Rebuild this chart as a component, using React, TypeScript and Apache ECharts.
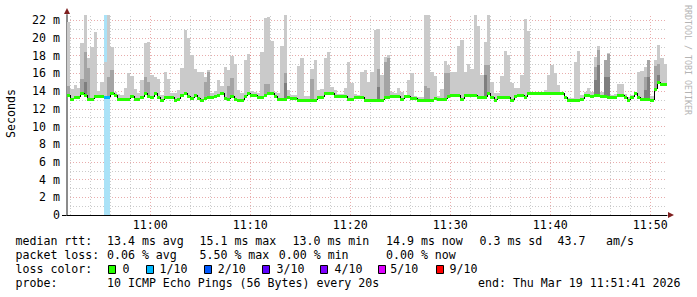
import { useEffect, useRef } from "react";
import * as echarts from "echarts";

// ---------- data ----------
const START_TIME = "10:51:41";
const STEP_S = 20;
const Y_MAX = 22.6;

const medianMs = [
  13.54, 13.16, 13.35, 13.35, 13.73, 13.54, 13.09, 13.09, 13.46, 13.46,
  13.46, 13.35, 13.35, 13.8, 13.54, 13.09, 13.09, 13.09, 13.16, 13.46,
  13.09, 13.09, 13.35, 13.8, 13.46, 13.35, 13.8, 13.35, 13.05, 13.35,
  13.35, 13.35, 13.05, 13.09, 13.54, 13.73, 13.43, 13.24, 13.61, 13.27,
  13.05, 13.27, 13.35, 13.35, 13.43, 13.61, 13.73, 13.24, 13.09, 13.4,
  13.09, 13.05, 13.05, 13.43, 13.73, 13.61, 13.61, 13.35, 13.35, 13.61,
  13.73, 13.73, 13.43, 13.16, 13.16, 13.16, 13.35, 13.27, 13.27, 13.05,
  13.05, 13.05, 13.05, 13.05, 13.05, 13.35, 13.35, 13.8, 13.8, 13.8,
  13.43, 13.43, 13.43, 13.43, 13.09, 13.09, 13.35, 13.35, 13.35, 13.05,
  13.05, 13.05, 13.05, 13.05, 13.05, 13.35, 13.35, 13.46, 13.46, 13.46,
  13.16, 13.43, 13.43, 13.27, 13.27, 12.97, 12.97, 12.97, 12.97, 12.97,
  13.2, 13.09, 13.09, 13.09, 13.43, 13.61, 13.61, 13.61, 13.15, 13.61,
  13.61, 13.61, 13.61, 13.35, 13.35, 13.35, 13.8, 13.35, 13.05, 13.35,
  13.35, 13.35, 13.35, 12.97, 13.43, 13.61, 13.61, 13.35, 13.73, 13.73,
  13.73, 13.73, 13.73, 13.73, 13.73, 13.73, 13.73, 13.73, 13.73, 13.35,
  12.97, 12.97, 12.97, 12.97, 13.16, 13.61, 13.61, 13.43, 13.61, 13.61,
  13.46, 13.46, 13.35, 13.35, 13.35, 13.61, 13.61, 13.35, 13.05, 13.35,
  13.73, 13.35, 13.16, 13.16, 13.16, 12.97, 14.2, 15.04, 14.85, 14.85,
];

const smokeMaxMs = [
  21.8, 14.2, 14.7, 14.4, 19.4, 22.6, 17.7, 19.0, 20.7, 14.0,
  15.0, 17.3, 22.6, 19.0, 13.9, 13.7, 13.6, 14.4, 16.0, 15.7,
  14.2, 13.8, 15.2, 19.4, 19.6, 15.8, 15.6, 15.4, 13.6, 16.2,
  15.4, 13.8, 13.8, 14.1, 16.6, 20.9, 20.0, 18.1, 16.5, 16.2,
  16.2, 15.6, 16.4, 13.8, 14.0, 15.2, 14.6, 16.7, 16.4, 18.0,
  17.1, 14.1, 13.8, 17.5, 18.2, 14.0, 13.9, 13.8, 18.4, 22.3,
  22.4, 19.7, 13.9, 13.8, 19.1, 22.6, 14.1, 13.6, 13.6, 16.8,
  17.7, 13.4, 13.4, 16.5, 17.5, 14.1, 14.2, 17.7, 18.4, 14.5,
  14.1, 13.7, 13.7, 14.3, 17.3, 14.9, 13.7, 13.6, 16.2, 16.4,
  15.0, 16.2, 20.9, 21.0, 15.8, 17.9, 18.1, 13.9, 13.8, 14.4,
  13.9, 13.6, 15.3, 16.0, 13.5, 13.3, 13.3, 22.6, 22.6, 16.2,
  15.7, 13.5, 14.2, 17.4, 16.9, 16.2, 16.2, 19.1, 19.8, 16.2,
  17.1, 16.5, 22.6, 21.4, 15.8, 19.6, 22.6, 15.0, 13.8, 13.8,
  15.7, 18.5, 18.1, 14.9, 14.3, 14.4, 15.8, 22.2, 20.8, 13.9,
  13.9, 13.9, 13.9, 14.1, 15.8, 17.0, 16.0, 14.7, 13.9, 13.5,
  13.2, 13.2, 17.3, 18.5, 13.6, 13.9, 14.3, 13.9, 17.9, 19.1,
  13.9, 17.5, 18.3, 13.6, 13.7, 14.8, 14.8, 13.7, 13.3, 13.6,
  13.8, 16.2, 16.3, 16.7, 17.5, 13.4, 17.5, 19.2, 17.7, 17.1,
];

const smokeMidIdx = [0, 4, 5, 6, 12, 13, 23, 24, 41, 42, 48, 49, 59, 60, 65, 73, 93, 95, 96, 107, 108, 113, 114, 125, 126, 158, 159, 161, 162, 173, 174, 176, 177];
const smokeMidMs = [14.6, 15.4, 18.4, 16.6, 15.6, 16.4, 15.6, 15.0, 15.0, 16.2, 14.6, 15.5, 14.8, 14.8, 16.0, 15.4, 16.5, 17.3, 17.7, 14.6, 14.4, 16.0, 16.0, 16.9, 16.9, 16.7, 18.7, 17.5, 18.2, 15.6, 17.5, 16.8, 17.1];

const smokeDarkIdx = [5, 65, 93, 125, 158, 159, 161, 162, 173, 174, 177];
const smokeDarkMs = [15.0, 14.9, 14.5, 15.8, 15.2, 17.0, 15.6, 15.6, 14.1, 15.6, 15.8];

const lossIdx = [11, 12];
const lossTenths = [1, 1];

const xTickLabels = ["11:00", "11:10", "11:20", "11:30", "11:40", "11:50"];

const lossLegendLabels = ["0", "1/10", "2/10", "3/10", "4/10", "5/10", "9/10"];
const lossLegendColors = ["#26ff00", "#00b8ff", "#0059ff", "#5e00ff", "#7e00ff", "#dd00ff", "#ff0000"];
const lossLegendTenths = [0, 1, 2, 3, 4, 5, 9];

const rttStats = ["13.4 ms avg", "15.1 ms max", "13.0 ms min", "14.9 ms now", "0.3 ms sd", "43.7", "am/s"];
const lossStats = ["0.06 % avg", "5.50 % max", "0.00 % min", "0.00 % now"];
const probeText = "10 ICMP Echo Pings (56 Bytes) every 20s";
const endText = "end: Thu Mar 19 11:51:41 2026";

// ---------- styles / layout ----------
const FONT = '"DejaVu Sans Mono", "Liberation Mono", monospace';
const FS = 11.6;
const SMOKE = ["#cacaca", "#a4a4a4", "#7e7e7e"];
const LOSS_BG = "#aae2f7";
const MGRID = "rgba(205,70,70,0.45)";
const GRID = "rgba(140,140,140,0.45)";
const ARROW = "#7f1f1f";

const rttX = [107, 199.5, 292.5, 386, 479.5, 557.5, 606];
const lossX = [107, 199.5, 278.8, 386];
const sqX = [108, 146, 203.5, 262, 320, 377.7, 435.7];
const sqLabelX = [122.5, 159.5, 217.8, 276.5, 334.5, 390.2, 449.5];

function toSec(hms: string) {
  const p = hms.split(":").map(Number);
  return p[0] * 3600 + p[1] * 60 + (p[2] || 0);
}

export default function App() {
  const ref = useRef<HTMLDivElement>(null);

  useEffect(() => {
    if (!ref.current) return;
    const chart = echarts.init(ref.current, undefined, { renderer: "svg" });

    const N = medianMs.length;
    const total = N * STEP_S;
    const startSec = toSec(START_TIME);

    const midMap: Record<number, number> = {};
    smokeMidIdx.forEach((i, k) => (midMap[i] = smokeMidMs[k]));
    const darkMap: Record<number, number> = {};
    smokeDarkIdx.forEach((i, k) => (darkMap[i] = smokeDarkMs[k]));
    const lossMap: Record<number, number> = {};
    lossIdx.forEach((i, k) => (lossMap[i] = lossTenths[k]));
    const colorFor = (t: number) => {
      let best = 0;
      lossLegendTenths.forEach((v, k) => { if (t >= v) best = k; });
      return lossLegendColors[best];
    };

    // vertical grid: minor every 2 min, major at labelled ticks
    const gridData: number[][] = [];
    for (let t = Math.ceil(startSec / 120) * 120; t < startSec + total; t += 120) {
      const li = xTickLabels.findIndex((l) => toSec(l) === t);
      gridData.push([t - startSec, li]);
    }

    const txt = (text: string, x: number, y: number, extra: any = {}) => ({
      type: "text",
      x,
      y,
      silent: true,
      style: {
        text,
        fill: "#000",
        font: `${FS}px ${FONT}`,
        align: "left",
        verticalAlign: "middle",
        textAlign: "left",
        textVerticalAlign: "middle",
        ...extra,
      },
    });

    const graphics: any[] = [];
    // axis arrows & stub
    graphics.push({ type: "polygon", silent: true, shape: { points: [[64, 14], [70, 14], [67, 8]] }, style: { fill: ARROW } });
    graphics.push({ type: "polygon", silent: true, shape: { points: [[668, 212], [668, 218], [674, 215]] }, style: { fill: ARROW } });
    graphics.push({ type: "line", silent: true, shape: { x1: 62, y1: 215.5, x2: 67, y2: 215.5 }, style: { stroke: "#000", lineWidth: 1 } });
    // titles
    graphics.push({
      type: "text", x: 11, y: 113.5, rotation: Math.PI / 2, silent: true,
      style: { text: "Seconds", fill: "#000", font: `${FS}px ${FONT}`, align: "center", verticalAlign: "middle", textAlign: "center", textVerticalAlign: "middle" },
    });
    graphics.push({
      type: "text", x: 688, y: 60, rotation: -Math.PI / 2, silent: true,
      style: { text: "RRDTOOL / TOBI OETIKER", fill: "#b4b4b4", font: `8.3px ${FONT}`, align: "center", verticalAlign: "middle", textAlign: "center", textVerticalAlign: "middle" },
    });
    // legend row 1
    graphics.push(txt("median rtt:", 15.5, 241));
    rttStats.forEach((s, k) => graphics.push(txt(s, rttX[k], 241)));
    // row 2
    graphics.push(txt("packet loss:", 15.5, 255));
    lossStats.forEach((s, k) => graphics.push(txt(s, lossX[k], 255)));
    // row 3
    graphics.push(txt("loss color:", 15.5, 269));
    lossLegendLabels.forEach((s, k) => {
      graphics.push({
        type: "rect", silent: true,
        shape: { x: Math.round(sqX[k]) + 0.5, y: 265.5, width: 7, height: 8 },
        style: { fill: lossLegendColors[k], stroke: "#000", lineWidth: 1 },
      });
      graphics.push(txt(s, sqLabelX[k], 269));
    });
    // row 4
    graphics.push(txt("probe:", 15.5, 283));
    graphics.push(txt(probeText, 107, 283));
    graphics.push(txt(endText, 478, 283));

    const option: any = {
      animation: false,
      grid: { left: 67, right: 30, top: 15, bottom: 82, containLabel: false },
      xAxis: {
        type: "value",
        min: 0,
        max: total,
        axisLine: { show: true, onZero: false, lineStyle: { color: "#000", width: 1 } },
        axisTick: { show: false },
        axisLabel: { show: false },
        splitLine: { show: false },
      },
      yAxis: {
        type: "value",
        min: 0,
        max: Y_MAX,
        interval: 1,
        axisLine: { show: true, lineStyle: { color: "#8c8c8c", width: 2 } },
        axisTick: { show: false },
        axisLabel: {
          show: true,
          showMaxLabel: false,
          margin: 7,
          color: "#000",
          fontFamily: FONT,
          fontSize: FS,
          formatter: (v: number) => {
            if (Math.abs(v - Math.round(v)) > 1e-6 || Math.round(v) % 2 !== 0) return "";
            return v === 0 ? "0" : `${Math.round(v)} m`;
          },
        },
        splitLine: {
          show: true,
          showMinLine: true,
          showMaxLine: false,
          lineStyle: { color: [MGRID, GRID], width: 1, type: [1, 2] },
        },
      },
      graphic: graphics,
      series: [
        {
          // vertical grid + time labels
          type: "custom",
          z: 1,
          clip: false,
          silent: true,
          data: gridData,
          renderItem: (params: any, api: any) => {
            const t = api.value(0);
            const li = gridData[params.dataIndex][1];
            const p0 = api.coord([t, 0]);
            const p1 = api.coord([t, Y_MAX]);
            const x = Math.round(p0[0]) + 0.5;
            const children: any[] = [
              {
                type: "line",
                shape: { x1: x, y1: p0[1], x2: x, y2: p1[1] },
                style: { stroke: li >= 0 ? MGRID : GRID, lineWidth: 1, lineDash: [1, 2] },
              },
            ];
            if (li >= 0) {
              children.push({
                type: "text",
                x: p0[0],
                y: p0[1] + 10,
                style: {
                  text: xTickLabels[li], fill: "#000", font: `${FS}px ${FONT}`,
                  align: "center", verticalAlign: "middle", textAlign: "center", textVerticalAlign: "middle",
                },
              });
            }
            return { type: "group", children };
          },
        },
        {
          // loss background
          type: "custom",
          z: 2,
          clip: true,
          silent: true,
          data: lossIdx.map((i, k) => [i * STEP_S, lossTenths[k]]),
          renderItem: (params: any, api: any) => {
            const t0 = api.value(0);
            const a = api.coord([t0, Y_MAX]);
            const b = api.coord([t0 + STEP_S, 0]);
            const x0 = Math.round(a[0]);
            const x1 = Math.round(b[0]);
            return { type: "rect", shape: { x: x0, y: a[1], width: x1 - x0, height: b[1] - a[1] }, style: { fill: LOSS_BG } };
          },
        },
        {
          // smoke
          type: "custom",
          z: 3,
          clip: true,
          silent: true,
          data: smokeMaxMs.map((v, i) => [i * STEP_S, v]),
          renderItem: (params: any, api: any) => {
            const i = params.dataIndex;
            const t0 = i * STEP_S;
            const base = medianMs[i];
            const layers: [number | undefined, string][] = [
              [Math.min(smokeMaxMs[i], Y_MAX), SMOKE[0]],
              [midMap[i], SMOKE[1]],
              [darkMap[i], SMOKE[2]],
            ];
            const children: any[] = [];
            for (const [top, color] of layers) {
              if (top == null || top <= base) continue;
              const a = api.coord([t0, top]);
              const b = api.coord([t0 + STEP_S, base]);
              const x0 = Math.round(a[0]);
              const x1 = Math.round(b[0]);
              const y0 = Math.round(a[1]);
              const y1 = Math.round(b[1]);
              children.push({ type: "rect", shape: { x: x0, y: y0, width: x1 - x0, height: y1 - y0 }, style: { fill: color } });
            }
            return { type: "group", children };
          },
        },
        {
          // median, coloured by loss
          type: "custom",
          z: 5,
          clip: true,
          silent: true,
          data: medianMs.map((v, i) => [i * STEP_S, v]),
          renderItem: (params: any, api: any) => {
            const i = params.dataIndex;
            const t0 = i * STEP_S;
            const a = api.coord([t0, medianMs[i]]);
            const b = api.coord([t0 + STEP_S, medianMs[i]]);
            const x0 = Math.round(a[0]);
            const x1 = Math.round(b[0]);
            const y = Math.round(a[1]);
            const children: any[] = [];
            if (i > 0) {
              const py = Math.round(api.coord([t0, medianMs[i - 1]])[1]);
              if (py !== y) {
                children.push({ type: "line", shape: { x1: x0 + 0.5, y1: py, x2: x0 + 0.5, y2: y }, style: { stroke: "#000", lineWidth: 1 } });
              }
            }
            children.push({
              type: "rect",
              shape: { x: x0, y: y - 1, width: x1 - x0, height: 3 },
              style: { fill: colorFor(lossMap[i] || 0) },
            });
            return { type: "group", children };
          },
        },
      ],
    };

    chart.setOption(option);
    return () => chart.dispose();
  }, []);

  return (
    <div
      ref={ref}
      style={{ position: "absolute", left: 0, top: 0, width: 697, height: 297, background: "#fff" }}
    />
  );
}
